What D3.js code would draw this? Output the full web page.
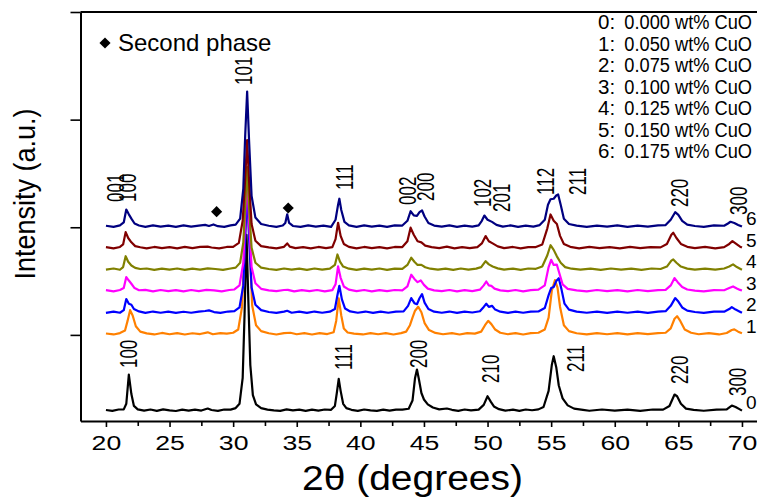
<!DOCTYPE html>
<html>
<head>
<meta charset="utf-8">
<script src="https://cdn.jsdelivr.net/npm/d3@7"></script>
<style>
  html, body { margin: 0; padding: 0; background: #fff; overflow: hidden; }
  svg { display: block; font-family: "Liberation Sans", Arial, sans-serif; }
</style>
</head>
<body>
<svg id="chart" width="757" height="499"></svg>
<script>
// ---------------- DATA ----------------
const seriesNames = ["0", "1", "2", "3", "4", "5", "6"];
const legendLabels = ["0.000 wt% CuO", "0.050 wt% CuO", "0.075 wt% CuO", "0.100 wt% CuO",
                      "0.125 wt% CuO", "0.150 wt% CuO", "0.175 wt% CuO"];
const seriesColors = ["#000000", "#FF8000", "#0000FF", "#FF00FF", "#808000", "#800000", "#000080"];
const seriesOffsets = [-700, 10, 210, 410, 610, 810, 1010];

const xTicks = [20, 25, 30, 35, 40, 45, 50, 55, 60, 65, 70];
const xMinorTicks = [22.5, 27.5, 32.5, 37.5, 42.5, 47.5, 52.5, 57.5, 62.5, 67.5];
const yTicks = [0, 1000, 2000, 3000];

// [2theta, intensity above own baseline]
const s0 = [[20,2],[20.5,-6],[21,7],[21.4,8],[21.6,60],[21.8,330],[22.0,150],[22.2,40],[22.5,8],[23,-4],[23.5,7],[24,-6],[24.5,8],[25,-2],[25.5,-7],[26,5],[26.5,-4],[27,6],[27.5,-3],[28,16],[28.3,2],[28.8,-6],[29.3,7],[29.8,6],[30.2,20],[30.5,60],[30.75,300],[30.9,900],[31.05,1630],[31.2,1000],[31.35,420],[31.55,140],[31.8,55],[32.2,20],[32.7,6],[33.2,-2],[33.7,-6],[34.2,8],[34.7,-2],[35.2,6],[35.7,-6],[36.2,5],[36.7,-4],[37.2,7],[37.7,4],[38.0,40],[38.15,160],[38.3,292],[38.45,180],[38.65,60],[38.9,20],[39.3,4],[39.8,-6],[40.3,7],[40.8,-2],[41.3,-6],[41.8,5],[42.3,-4],[42.8,6],[43.3,6],[43.8,14],[44.1,90],[44.3,300],[44.45,378],[44.6,290],[44.8,160],[45.0,100],[45.3,55],[45.7,25],[46.2,8],[46.8,16],[47.2,4],[47.7,-6],[48.2,7],[48.7,-2],[49.3,6],[49.7,50],[50.0,130],[50.25,80],[50.5,35],[50.9,10],[51.4,-4],[52,6],[52.5,-6],[53,7],[53.5,0],[54,8],[54.4,30],[54.8,180],[55.05,420],[55.2,502],[55.4,400],[55.6,230],[55.9,110],[56.3,45],[56.8,15],[57.5,4],[58,-5],[59,7],[60,-3],[61,6],[62,-6],[63,7],[63.8,6],[64.3,40],[64.7,146],[64.9,130],[65.2,60],[65.6,15],[66.2,3],[67,-5],[68,6],[68.8,8],[69.2,44],[69.5,30],[69.8,10],[70,-4]];
const s1 = [[20,3],[20.6,-6],[21.1,7],[21.5,30],[21.7,120],[21.9,220],[22.1,170],[22.35,70],[22.7,20],[23.2,4],[23.8,-6],[24.4,8],[25,-4],[25.6,7],[26.2,-6],[26.8,5],[27.4,-2],[28,14],[28.4,-4],[29,6],[29.5,2],[30,10],[30.4,40],[30.7,250],[30.9,800],[31.1,1350],[31.3,800],[31.5,260],[31.8,80],[32.2,25],[32.8,5],[33.4,-6],[34,7],[34.5,10],[35,-4],[35.6,6],[36.2,-6],[36.8,7],[37.4,-2],[37.9,15],[38.1,120],[38.3,329],[38.5,170],[38.7,50],[39,12],[39.5,2],[40.2,-6],[40.8,7],[41.4,-4],[42,6],[42.6,-6],[43.2,6],[43.6,20],[43.9,80],[44.1,150],[44.3,215],[44.55,251],[44.8,200],[45.05,100],[45.4,35],[45.9,8],[46.5,-4],[47.2,7],[47.8,-6],[48.4,6],[49,2],[49.5,20],[49.8,80],[50.05,121],[50.3,90],[50.6,40],[51,10],[51.6,-4],[52.2,7],[52.8,-6],[53.4,6],[54,10],[54.5,40],[54.8,150],[55.05,400],[55.3,499],[55.5,430],[55.7,250],[56,80],[56.4,25],[57,5],[57.8,-6],[58.6,7],[59.4,-4],[60.2,6],[61,-6],[61.8,7],[62.6,-2],[63.4,6],[64,10],[64.4,50],[64.7,140],[64.9,164],[65.15,120],[65.5,40],[66,10],[66.6,-4],[67.4,7],[68.2,-6],[68.8,8],[69.2,35],[69.4,41],[69.7,20],[70,5]];
const s2 = [[20,-5],[20.6,6],[21.1,-4],[21.4,20],[21.6,123],[21.8,80],[22.0,70],[22.2,30],[22.6,8],[23.1,-6],[23.7,7],[24.3,-4],[24.9,6],[25.5,-6],[26.1,5],[26.7,-4],[27.3,7],[27.8,12],[28.1,18],[28.5,2],[29,-6],[29.6,7],[30.1,10],[30.5,45],[30.8,250],[30.95,700],[31.1,1150],[31.25,700],[31.45,230],[31.75,70],[32.2,20],[32.8,3],[33.4,-6],[34,6],[34.25,14],[34.6,-4],[35.2,6],[35.8,-6],[36.4,7],[37,-4],[37.6,6],[38,30],[38.2,160],[38.35,246],[38.55,120],[38.8,35],[39.2,8],[39.8,-4],[40.4,7],[41,-6],[41.6,6],[42.2,-4],[42.8,7],[43.4,8],[43.75,60],[44.0,132],[44.25,85],[44.45,75],[44.65,130],[44.85,169],[45.05,90],[45.35,30],[45.8,6],[46.4,-4],[47,7],[47.6,-6],[48.2,6],[48.8,-2],[49.4,10],[49.7,50],[49.9,79],[50.1,50],[50.35,60],[50.6,25],[51,6],[51.6,-6],[52.2,6],[52.8,-4],[53.4,7],[54,8],[54.5,40],[54.8,160],[55.0,225],[55.2,235],[55.4,290],[55.6,316],[55.8,220],[56.05,80],[56.4,25],[57,6],[57.8,-4],[58.6,7],[59.4,-6],[60.2,6],[61,-4],[61.8,7],[62.6,-6],[63.4,6],[64,10],[64.4,60],[64.75,132],[65,100],[65.3,45],[65.7,15],[66.3,3],[67,-6],[67.8,6],[68.6,6],[69.0,30],[69.2,48],[69.5,25],[69.8,8],[70,-5]];
const s3 = [[20,6],[20.6,-5],[21.1,7],[21.4,25],[21.6,127],[21.8,95],[22.0,65],[22.25,25],[22.6,5],[23.1,8],[23.7,-6],[24.3,7],[24.9,-4],[25.5,6],[26.1,-6],[26.7,7],[27.3,-4],[27.9,8],[28.5,3],[29.1,-6],[29.7,7],[30.1,12],[30.5,50],[30.8,260],[30.95,700],[31.1,1100],[31.25,650],[31.45,220],[31.75,70],[32.2,18],[32.8,4],[33.4,-4],[34,7],[34.3,8],[34.8,-6],[35.4,6],[36,-4],[36.6,7],[37.2,-6],[37.8,6],[38.05,60],[38.25,226],[38.45,120],[38.7,40],[39.1,10],[39.7,-4],[40.3,7],[40.9,-6],[41.5,6],[42.1,-4],[42.7,7],[43.3,4],[43.7,40],[44.0,149],[44.25,110],[44.5,80],[44.75,96],[45.0,55],[45.3,20],[45.8,4],[46.4,-4],[47,7],[47.6,-6],[48.2,6],[48.8,-4],[49.4,10],[49.7,50],[49.9,86],[50.1,50],[50.3,45],[50.55,20],[51,4],[51.6,-4],[52.2,7],[52.8,-6],[53.4,6],[54,10],[54.5,50],[54.8,220],[55.0,288],[55.2,240],[55.45,242],[55.65,160],[55.9,60],[56.3,18],[57,4],[57.8,-6],[58.6,7],[59.4,-4],[60.2,6],[61,-6],[61.8,7],[62.6,-4],[63.4,6],[64,8],[64.4,50],[64.7,118],[64.95,80],[65.3,35],[65.7,12],[66.3,2],[67,-6],[67.8,6],[68.6,5],[69.0,25],[69.3,40],[69.6,22],[69.85,8],[70,2]];
const s4 = [[20,-4],[20.6,7],[21.1,-5],[21.35,20],[21.55,121],[21.75,70],[22.0,35],[22.3,12],[22.7,2],[23.2,7],[23.8,-6],[24.4,6],[25,-4],[25.6,7],[26.2,-6],[26.8,6],[27.4,-4],[28,8],[28.6,2],[29.2,-6],[29.8,7],[30.2,15],[30.55,60],[30.8,250],[30.95,600],[31.1,950],[31.25,580],[31.45,200],[31.75,60],[32.2,15],[32.8,2],[33.4,-6],[34,7],[34.6,-4],[35.2,6],[35.8,-6],[36.4,7],[37,-4],[37.6,6],[38.0,40],[38.2,137],[38.4,70],[38.65,25],[39.1,5],[39.7,-6],[40.3,6],[40.9,-4],[41.5,7],[42.1,-6],[42.7,6],[43.3,3],[43.7,40],[44.0,107],[44.25,70],[44.5,40],[44.8,40],[45.1,18],[45.5,5],[46.1,-4],[46.7,6],[47.3,-6],[47.9,7],[48.5,-4],[49.1,6],[49.5,20],[49.85,75],[50.1,45],[50.4,25],[50.8,8],[51.3,-4],[52,6],[52.6,-6],[53.2,7],[53.8,4],[54.3,25],[54.7,130],[54.95,223],[55.2,180],[55.45,120],[55.75,60],[56.1,20],[56.6,5],[57.3,-4],[58.1,6],[58.9,-6],[59.7,7],[60.5,-4],[61.3,6],[62.1,-6],[62.9,7],[63.6,2],[64.1,25],[64.45,80],[64.6,91],[64.85,60],[65.2,25],[65.7,6],[66.3,-4],[67.1,6],[67.9,-4],[68.6,7],[69.0,25],[69.3,45],[69.6,20],[69.85,5],[70,-4]];
const s5 = [[20,5],[20.6,-6],[21.1,7],[21.35,30],[21.55,145],[21.75,90],[22.0,50],[22.3,15],[22.7,4],[23.2,-6],[23.8,7],[24.4,-4],[25,6],[25.6,-6],[26.2,8],[26.8,-4],[27.4,7],[28,10],[28.3,2],[28.9,-6],[29.5,7],[30,8],[30.45,45],[30.75,250],[30.95,650],[31.1,1000],[31.25,620],[31.45,220],[31.75,65],[32.2,15],[32.8,3],[33.4,-6],[34,8],[34.25,40],[34.45,10],[34.9,-4],[35.5,6],[36.1,-6],[36.7,7],[37.3,-4],[37.8,5],[38.05,80],[38.25,232],[38.45,110],[38.7,35],[39.1,8],[39.7,-6],[40.3,7],[40.9,-4],[41.5,6],[42.1,-6],[42.7,7],[43.3,6],[43.7,60],[43.95,186],[44.2,120],[44.5,60],[44.8,50],[45.1,20],[45.6,5],[46.2,-4],[46.8,10],[47.4,-6],[48,6],[48.6,-4],[49.2,6],[49.55,40],[49.85,108],[50.1,60],[50.4,40],[50.8,12],[51.3,-4],[52,7],[52.6,-6],[53.2,6],[53.8,6],[54.3,30],[54.7,180],[54.95,309],[55.2,250],[55.45,220],[55.7,110],[56,35],[56.5,8],[57.2,-6],[58,7],[58.8,-4],[59.6,6],[60.4,-6],[61.2,7],[62,-4],[62.8,6],[63.6,3],[64.1,35],[64.45,120],[64.6,139],[64.85,90],[65.2,35],[65.7,8],[66.3,-4],[67.1,7],[67.9,-6],[68.6,6],[69.0,35],[69.25,61],[69.55,35],[69.85,10],[70,2]];
const s6 = [[20,4],[20.6,-6],[21.1,7],[21.4,35],[21.6,155],[21.8,110],[22.0,70],[22.25,25],[22.6,6],[23.1,-6],[23.7,7],[24.3,-4],[24.9,6],[25.5,-6],[26.1,7],[26.7,-4],[27.3,6],[27.8,12],[28.1,2],[28.45,16],[28.8,0],[29.3,-6],[29.8,7],[30.2,15],[30.55,70],[30.8,350],[30.95,850],[31.1,1251],[31.25,800],[31.45,280],[31.75,80],[32.2,20],[32.8,4],[33.4,-6],[33.9,6],[34.1,30],[34.25,110],[34.4,30],[34.7,2],[35.3,-6],[35.9,7],[36.5,-4],[37.1,6],[37.7,-6],[38.05,60],[38.25,200],[38.35,255],[38.5,150],[38.75,40],[39.1,8],[39.7,-6],[40.3,7],[40.9,-4],[41.5,6],[42.1,-6],[42.7,7],[43.3,6],[43.7,50],[43.95,139],[44.2,100],[44.45,95],[44.65,130],[44.85,146],[45.05,90],[45.35,30],[45.8,6],[46.4,-4],[47,7],[47.6,-6],[48.2,6],[48.8,-4],[49.3,8],[49.55,50],[49.75,99],[50.0,60],[50.35,40],[50.7,12],[51.2,-4],[51.8,7],[52.4,-6],[53,6],[53.6,-4],[54.1,10],[54.5,60],[54.75,200],[54.95,250],[55.2,255],[55.4,285],[55.55,295],[55.75,200],[56,70],[56.4,20],[57,5],[57.8,-6],[58.6,6],[59.4,-4],[60.2,7],[61,-6],[61.8,6],[62.6,-4],[63.4,7],[64,10],[64.4,60],[64.75,130],[65,105],[65.3,50],[65.7,15],[66.3,2],[67,-6],[67.8,7],[68.6,4],[68.9,25],[69.1,41],[69.4,30],[69.7,12],[70,-4]];
const seriesData = [s0, s1, s2, s3, s4, s5, s6];

// Miller-index annotations: [label, 2theta (centre), intensity at text start]
const peakLabels = [
  ["100", 21.77, -308], ["111", 38.67, -326], ["200", 44.55, -308], ["210", 50.27, -447],
  ["211", 56.95, -345], ["220", 65.09, -456], ["300", 69.65, -568],
  ["001", 20.73, 1235], ["100", 21.73, 1235], ["101", 30.85, 2322], ["111", 38.79, 1346],
  ["002", 43.72, 1207], ["200", 45.13, 1244], ["102", 49.6, 1188], ["201", 51.13, 1142],
  ["112", 54.59, 1300], ["211", 57.07, 1300], ["220", 65.09, 1188], ["300", 69.73, 1114]
];
// second-phase markers: [2theta, intensity]
const secondPhase = [[28.7, 1145], [34.33, 1179]];

// ---------------- CHART ----------------
const svg = d3.select("#chart");
const x = d3.scaleLinear().domain([18, 72]).range([80.5, 767.4]);
const y = d3.scaleLinear().domain([-800, 3000]).range([421, 12]);

// frame top line
svg.append("line").attr("x1", x(18)).attr("x2", x(72)).attr("y1", y(3000)).attr("y2", y(3000))
  .attr("stroke", "#000").attr("stroke-width", 2);

// curves
const line = d3.line().x(d => x(d[0])).y(d => y(d[1]));
seriesData.forEach((s, i) => {
  const pts = s.map(d => [d[0], d[1] + seriesOffsets[i]]);
  svg.append("path").datum(pts).attr("d", line).attr("fill", "none")
    .attr("stroke", seriesColors[i]).attr("stroke-width", 2.2).attr("stroke-linejoin", "round");
});

// x axis
const gx = svg.append("g").attr("transform", `translate(0,${y(-800)})`);
gx.call(d3.axisBottom(x).tickValues(xTicks).tickSize(6).tickSizeOuter(0).tickFormat(d3.format("d")));
gx.append("g").call(d3.axisBottom(x).tickValues(xMinorTicks).tickSize(5).tickFormat("")).select(".domain").remove();
gx.selectAll("path.domain").attr("stroke-width", 2);
gx.selectAll(".tick line").attr("stroke-width", 1.6);
gx.selectAll(".tick text").attr("y", 0).attr("dy", null).attr("fill", "#000")
  .attr("font-size", 20.5).attr("font-family", "Liberation Sans, Arial, sans-serif")
  .attr("text-anchor", "middle").attr("transform", "translate(0,29) scale(1.3,1)");

// y axis
const gy = svg.append("g").attr("transform", `translate(${x(18)},0)`);
gy.call(d3.axisLeft(y).tickValues(yTicks).tickSize(10).tickSizeOuter(0).tickFormat(""));
gy.selectAll("path.domain").attr("stroke-width", 2);
gy.selectAll(".tick line").attr("stroke-width", 1.6);

// axis titles
svg.append("text").attr("x", 412.5).attr("y", 490).attr("text-anchor", "middle")
  .attr("font-size", 35).attr("textLength", 221).attr("lengthAdjust", "spacingAndGlyphs")
  .text("2θ (degrees)");
svg.append("text").attr("transform", "translate(35,194) scale(1.08,1) rotate(-90)").attr("text-anchor", "middle")
  .attr("font-size", 27).text("Intensity (a.u.)");

// peak labels
svg.selectAll("text.peak").data(peakLabels).enter().append("text").attr("class", "peak")
  .attr("transform", d => `translate(${x(d[1]) + 8.3},${y(d[2])}) scale(1.38,1) rotate(-90)`)
  .attr("font-size", 17).attr("text-anchor", "start").text(d => d[0]);

// second phase markers
const diamond = d3.symbol().type(d3.symbolSquare).size(62);
svg.selectAll("path.sp").data(secondPhase).enter().append("path").attr("class", "sp")
  .attr("d", diamond).attr("fill", "#000")
  .attr("transform", d => `translate(${x(d[0])},${y(d[1])}) rotate(45)`);
svg.append("path").attr("d", diamond).attr("fill", "#000").attr("transform", "translate(105,43) rotate(45)");
svg.append("text").attr("x", 118).attr("y", 51).attr("font-size", 24).text("Second phase");

// series numbers at right end
svg.selectAll("text.num").data(seriesNames).enter().append("text").attr("class", "num")
  .attr("x", 746).attr("y", (d, i) => y(seriesOffsets[i]) - 1).attr("font-size", 19).text(d => d);

// legend
const lg = svg.append("g");
legendLabels.forEach((t, i) => {
  lg.append("text").attr("x", 598).attr("y", 29.3 + i * 21.5).attr("font-size", 20.5).text(seriesNames[i] + ":");
  lg.append("text").attr("x", 752).attr("y", 29.3 + i * 21.5).attr("font-size", 20.5)
    .attr("text-anchor", "end").attr("transform", "translate(752,0) scale(0.89,1) translate(-752,0)")
    .text(t);
});
</script>
</body>
</html>
